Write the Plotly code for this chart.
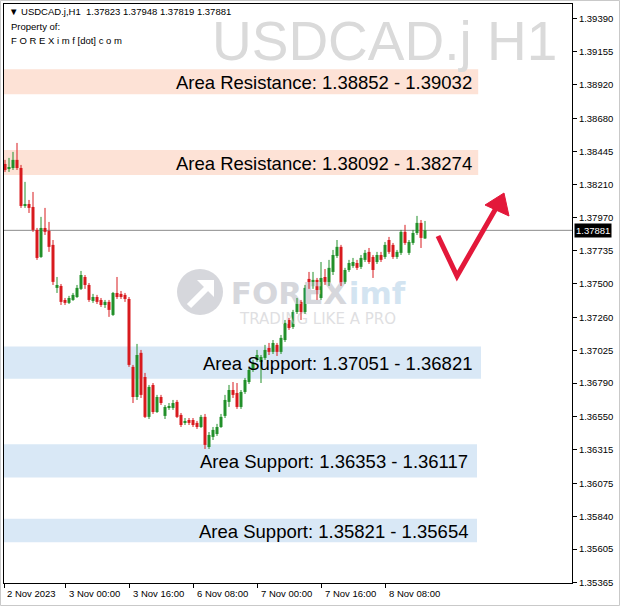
import plotly.graph_objects as go

# ---------------- data ----------------
open_ = [1.38355, 1.38326, 1.38326, 1.38384, 1.38326, 1.38055, 1.38069, 1.38048, 1.37884, 1.37691,
         1.37898, 1.37877, 1.37777, 1.37470, 1.37484, 1.37384, 1.37363, 1.37384, 1.37405, 1.37463,
         1.37548, 1.37491, 1.37377, 1.37405, 1.37384, 1.37348, 1.37370, 1.37277, 1.37434, 1.37427,
         1.37420, 1.37391, 1.36906, 1.36691, 1.37006, 1.36834, 1.36549, 1.36777, 1.36584, 1.36691,
         1.36556, 1.36613, 1.36613, 1.36656, 1.36563, 1.36506, 1.36527, 1.36527, 1.36506, 1.36477,
         1.36549, 1.36334, 1.36406, 1.36427, 1.36477, 1.36556, 1.36656, 1.36741, 1.36720, 1.36620,
         1.36727, 1.36798, 1.36884, 1.36956, 1.36941, 1.36970, 1.37041, 1.37013, 1.37063, 1.37013,
         1.37098, 1.37241, 1.37191, 1.37298, 1.37370, 1.37298, 1.37534, 1.37484, 1.37527, 1.37398,
         1.37548, 1.37505, 1.37584, 1.37698, 1.37763, 1.37513, 1.37598, 1.37627, 1.37648, 1.37620,
         1.37670, 1.37727, 1.37691, 1.37655, 1.37705, 1.37691, 1.37812, 1.37777, 1.37691, 1.37720,
         1.37870, 1.37720, 1.37791, 1.37862, 1.37934, 1.37823]
high_ = [1.38384, 1.38398, 1.38441, 1.38505, 1.38348, 1.38227, 1.38098, 1.38155, 1.37898, 1.37977,
         1.38041, 1.37941, 1.37812, 1.37548, 1.37498, 1.37398, 1.37413, 1.37434, 1.37491, 1.37591,
         1.37562, 1.37505, 1.37427, 1.37420, 1.37398, 1.37384, 1.37384, 1.37441, 1.37548, 1.37448,
         1.37434, 1.37405, 1.36920, 1.37070, 1.37027, 1.36863, 1.36777, 1.36791, 1.36706, 1.36706,
         1.36634, 1.36648, 1.36670, 1.36670, 1.36577, 1.36541, 1.36541, 1.36541, 1.36520, 1.36563,
         1.36570, 1.36441, 1.36477, 1.36499, 1.36570, 1.36706, 1.36777, 1.36798, 1.36791, 1.36741,
         1.36827, 1.36898, 1.36956, 1.37027, 1.36991, 1.37063, 1.37077, 1.37098, 1.37077, 1.37134,
         1.37241, 1.37256, 1.37313, 1.37398, 1.37384, 1.37491, 1.37584, 1.37584, 1.37541, 1.37655,
         1.37605, 1.37670, 1.37741, 1.37812, 1.37777, 1.37613, 1.37670, 1.37684, 1.37670, 1.37705,
         1.37741, 1.37755, 1.37705, 1.37727, 1.37727, 1.37798, 1.37834, 1.37791, 1.37741, 1.37884,
         1.37920, 1.37812, 1.37884, 1.37984, 1.37955, 1.37948]
low_ = [1.38298, 1.38298, 1.38312, 1.38312, 1.38041, 1.38041, 1.38005, 1.37870, 1.37670, 1.37684,
        1.37848, 1.37727, 1.37491, 1.37434, 1.37348, 1.37348, 1.37355, 1.37377, 1.37398, 1.37455,
        1.37463, 1.37370, 1.37363, 1.37355, 1.37334, 1.37327, 1.37263, 1.37270, 1.37391, 1.37391,
        1.37370, 1.36906, 1.36648, 1.36670, 1.36684, 1.36541, 1.36534, 1.36570, 1.36577, 1.36634,
        1.36534, 1.36599, 1.36599, 1.36541, 1.36477, 1.36491, 1.36491, 1.36477, 1.36463, 1.36470,
        1.36320, 1.36320, 1.36384, 1.36413, 1.36470, 1.36541, 1.36620, 1.36684, 1.36606, 1.36606,
        1.36713, 1.36784, 1.36870, 1.36941, 1.36791, 1.36956, 1.36991, 1.36998, 1.36984, 1.36998,
        1.37084, 1.37170, 1.37177, 1.37284, 1.37241, 1.37284, 1.37463, 1.37463, 1.37384, 1.37384,
        1.37491, 1.37484, 1.37562, 1.37684, 1.37484, 1.37498, 1.37584, 1.37613, 1.37598, 1.37605,
        1.37655, 1.37641, 1.37541, 1.37641, 1.37655, 1.37677, 1.37713, 1.37677, 1.37677, 1.37705,
        1.37777, 1.37705, 1.37777, 1.37848, 1.37755, 1.37819]
close_ = [1.38312, 1.38330, 1.38384, 1.38326, 1.38055, 1.38069, 1.38041, 1.37884, 1.37684, 1.37898,
          1.37870, 1.37763, 1.37513, 1.37491, 1.37370, 1.37363, 1.37398, 1.37420, 1.37470, 1.37562,
          1.37491, 1.37384, 1.37405, 1.37370, 1.37348, 1.37370, 1.37313, 1.37434, 1.37405, 1.37405,
          1.37391, 1.36920, 1.36691, 1.36991, 1.36706, 1.36549, 1.36763, 1.36584, 1.36691, 1.36648,
          1.36620, 1.36627, 1.36648, 1.36549, 1.36491, 1.36520, 1.36506, 1.36491, 1.36477, 1.36549,
          1.36349, 1.36420, 1.36456, 1.36477, 1.36549, 1.36670, 1.36741, 1.36706, 1.36620, 1.36727,
          1.36813, 1.36884, 1.36934, 1.36991, 1.36977, 1.37027, 1.37013, 1.37077, 1.37013, 1.37113,
          1.37220, 1.37184, 1.37298, 1.37370, 1.37298, 1.37470, 1.37484, 1.37527, 1.37448, 1.37541,
          1.37513, 1.37613, 1.37705, 1.37763, 1.37498, 1.37598, 1.37648, 1.37655, 1.37613, 1.37684,
          1.37720, 1.37655, 1.37598, 1.37705, 1.37670, 1.37777, 1.37727, 1.37691, 1.37727, 1.37870,
          1.37791, 1.37798, 1.37862, 1.37934, 1.37827, 1.37881]

first_time_label = "2 Nov 2023"
time_tick_bars = [15, 31, 47, 63, 79, 95]
time_tick_labels = ["3 Nov 00:00", "3 Nov 16:00", "6 Nov 08:00", "7 Nov 00:00", "7 Nov 16:00", "8 Nov 08:00"]

price_ticks = [1.39390, 1.39155, 1.38920, 1.38680, 1.38445, 1.38210, 1.37970, 1.37735, 1.37500,
               1.37260, 1.37025, 1.36790, 1.36550, 1.36315, 1.36075, 1.35840, 1.35605, 1.35365]

zone_labels = ["Area Resistance: 1.38852 - 1.39032", "Area Resistance: 1.38092 - 1.38274",
               "Area Support: 1.37051 - 1.36821", "Area Support: 1.36353 - 1.36117",
               "Area Support: 1.35821 - 1.35654"]
zone_low = [1.38852, 1.38276, 1.36821, 1.36117, 1.35654]
zone_high = [1.39032, 1.38455, 1.37051, 1.36353, 1.35821]
zone_kind = ["res", "res", "sup", "sup", "sup"]

symbol = "USDCAD.j,H1"
watermark = "USDCAD.j H1"
last_price = 1.37881

# ---------------- layout / style ----------------
W, H = 620, 606
ML, MR, MT, MB = 4, 48, 4, 23
PW, PH = W - ML - MR, H - MT - MB
X_RANGE = [-0.25, 141.75]
Y_RANGE = [1.35363, 1.39497]

GREEN = "#23902a"
RED = "#d81b1f"
RES_FILL = "#fde2d6"
SUP_FILL = "#d9e8f6"
ARROW = "#e3183a"
SMALL = dict(family="Liberation Sans, Arial, sans-serif", size=9.5, color="black")


def PX(px):
    return (px - ML) / PW


def PY(py):
    return 1 - (py - MT) / PH


def DX(px):
    return X_RANGE[0] + (px - ML) / PW * (X_RANGE[1] - X_RANGE[0])


def DY(py):
    return Y_RANGE[1] - (py - MT) / PH * (Y_RANGE[1] - Y_RANGE[0])


idx = list(range(len(open_)))
up = [i for i in idx if close_[i] >= open_[i]]
dn = [i for i in idx if close_[i] < open_[i]]

fig = go.Figure()

# logo text (behind candles)
fig.add_trace(go.Scatter(x=[DX(289)], y=[DY(296)], mode="text", text=["FOREX"],
                         textfont=dict(family="DejaVu Sans", size=31, color="#d6d7dc", weight="bold"),
                         textposition="middle center", hoverinfo="skip", showlegend=False))
fig.add_trace(go.Scatter(x=[DX(377)], y=[DY(296)], mode="text", text=["imf"],
                         textfont=dict(family="DejaVu Sans", size=31, color="#d3e4f1", weight="bold"),
                         textposition="middle center", hoverinfo="skip", showlegend=False))
fig.add_trace(go.Scatter(x=[DX(318)], y=[DY(320)], mode="text", text=["TRADING LIKE A PRO"],
                         textfont=dict(family="DejaVu Sans", size=15, color="#dfdfe2"),
                         textposition="middle center", hoverinfo="skip", showlegend=False))


def wick_xy(ids):
    xs, ys = [], []
    for i in ids:
        xs += [i, i, None]
        ys += [low_[i], high_[i], None]
    return xs, ys


for ids, col in ((up, GREEN), (dn, RED)):
    wx, wy = wick_xy(ids)
    fig.add_trace(go.Scatter(x=wx, y=wy, mode="lines", line=dict(color=col, width=1),
                             hoverinfo="skip", showlegend=False))

fig.add_trace(go.Bar(x=up, base=[open_[i] for i in up],
                     y=[max(close_[i] - open_[i], 0.00002) for i in up],
                     width=0.75, marker=dict(color=GREEN, line=dict(width=0)), showlegend=False))
fig.add_trace(go.Bar(x=dn, base=[close_[i] for i in dn],
                     y=[open_[i] - close_[i] for i in dn],
                     width=0.75, marker=dict(color=RED, line=dict(width=0)), showlegend=False))

shapes = []
ann = []
zone_right = [118.3, 118.3, 119.0, 118.0, 118.0]
for k in range(len(zone_labels)):
    shapes.append(dict(type="rect", xref="x", yref="y", x0=X_RANGE[0], x1=zone_right[k],
                       y0=zone_low[k], y1=zone_high[k], layer="below", line=dict(width=0),
                       fillcolor=RES_FILL if zone_kind[k] == "res" else SUP_FILL))
    ann.append(dict(xref="x", yref="y", x=zone_right[k], y=(zone_low[k] + zone_high[k]) / 2,
                    text=zone_labels[k], showarrow=False, xanchor="right", yanchor="middle",
                    xshift=-4 if zone_kind[k] == "res" else -7, yshift=-1,
                    font=dict(family="Liberation Sans, Arial, sans-serif", size=18.5, color="black")))

# current price line
shapes.append(dict(type="line", xref="paper", yref="y", x0=0, x1=1, y0=last_price, y1=last_price,
                   layer="below", line=dict(color="#8c8c8c", width=1)))

# logo circle + arrow
shapes.append(dict(type="circle", xref="paper", yref="paper", x0=PX(177), x1=PX(223),
                   y0=PY(315), y1=PY(269), fillcolor="#d6d7dc", line=dict(width=0), layer="below"))
shapes.append(dict(type="path", xref="paper", yref="paper", layer="below",
                   path=f"M {PX(189)},{PY(306)} L {PX(207)},{PY(288)}",
                   line=dict(color="white", width=6)))
shapes.append(dict(type="path", xref="paper", yref="paper", layer="below",
                   path=f"M {PX(197)},{PY(280)} L {PX(214)},{PY(280)} L {PX(214)},{PY(297)} Z",
                   fillcolor="white", line=dict(width=0)))

# red check-mark arrow
shapes.append(dict(type="path", xref="paper", yref="paper", layer="above",
                   path=f"M {PX(438)},{PY(236)} L {PX(457)},{PY(276)} L {PX(499)},{PY(203)}",
                   line=dict(color=ARROW, width=5)))
shapes.append(dict(type="path", xref="paper", yref="paper", layer="above",
                   path=f"M {PX(504)},{PY(193)} L {PX(485)},{PY(205)} L {PX(509)},{PY(216)} Z",
                   fillcolor=ARROW, line=dict(color=ARROW, width=1)))

# outer light frame
shapes.append(dict(type="rect", xref="paper", yref="paper", x0=PX(0.5), x1=PX(619.5),
                   y0=PY(605.5), y1=PY(0.5), line=dict(color="#c9c9c9", width=1), layer="below"))

# watermark symbol
ann.append(dict(xref="paper", yref="paper", x=PX(559), y=PY(41), text=watermark, showarrow=False,
                xanchor="right", yanchor="middle",
                font=dict(family="Liberation Sans, Arial, sans-serif", size=55, color="#dadada")))

# header
ann.append(dict(xref="paper", yref="paper", x=PX(7), y=PY(12), showarrow=False, xanchor="left",
                yanchor="middle", font=SMALL,
                text=f"\u25BC {symbol}  {open_[-1]:.5f} {high_[-1]:.5f} {low_[-1]:.5f} {close_[-1]:.5f}"))
ann.append(dict(xref="paper", yref="paper", x=PX(9), y=PY(27), showarrow=False, xanchor="left",
                yanchor="middle", font=SMALL, text="Property of:"))
ann.append(dict(xref="paper", yref="paper", x=PX(9), y=PY(40), showarrow=False, xanchor="left",
                yanchor="middle", font=SMALL, text="F O R E X i m f [dot] c o m"))

# time labels
ann.append(dict(xref="x", yref="paper", x=X_RANGE[0], y=PY(593), text=first_time_label,
                showarrow=False, xanchor="left", yanchor="middle", xshift=1, font=SMALL))
for b, t in zip(time_tick_bars, time_tick_labels):
    ann.append(dict(xref="x", yref="paper", x=b, y=PY(593), text=t, showarrow=False,
                    xanchor="left", yanchor="middle", xshift=2, font=SMALL))

# last price tag
ann.append(dict(xref="paper", yref="y", x=1, y=last_price, text=f"{last_price:.5f}", showarrow=False,
                xanchor="left", yanchor="middle", xshift=2, bgcolor="black", borderpad=1,
                font=dict(family="Liberation Sans, Arial, sans-serif", size=9.5, color="white")))

fig.update_layout(
    width=W, height=H, margin=dict(l=ML, r=MR, t=MT, b=MB),
    paper_bgcolor="white", plot_bgcolor="white", barmode="overlay", showlegend=False,
    shapes=shapes, annotations=ann,
    xaxis=dict(range=X_RANGE, showgrid=False, zeroline=False, showline=True, mirror=True,
               linecolor="black", linewidth=1, tickvals=[X_RANGE[0]] + time_tick_bars,
               ticks="outside", ticklen=4, tickcolor="black", showticklabels=False, fixedrange=True),
    yaxis=dict(range=Y_RANGE, side="right", showgrid=False, zeroline=False, showline=True,
               mirror=True, linecolor="black", linewidth=1, tickvals=price_ticks,
               ticktext=[f"{v:.5f}" for v in price_ticks], ticks="outside", ticklen=4,
               tickcolor="black", tickfont=SMALL, fixedrange=True),
)

fig.write_html("out.html", config={"displayModeBar": False},
               post_script="document.body.style.margin='0';document.body.style.overflow='hidden';")
